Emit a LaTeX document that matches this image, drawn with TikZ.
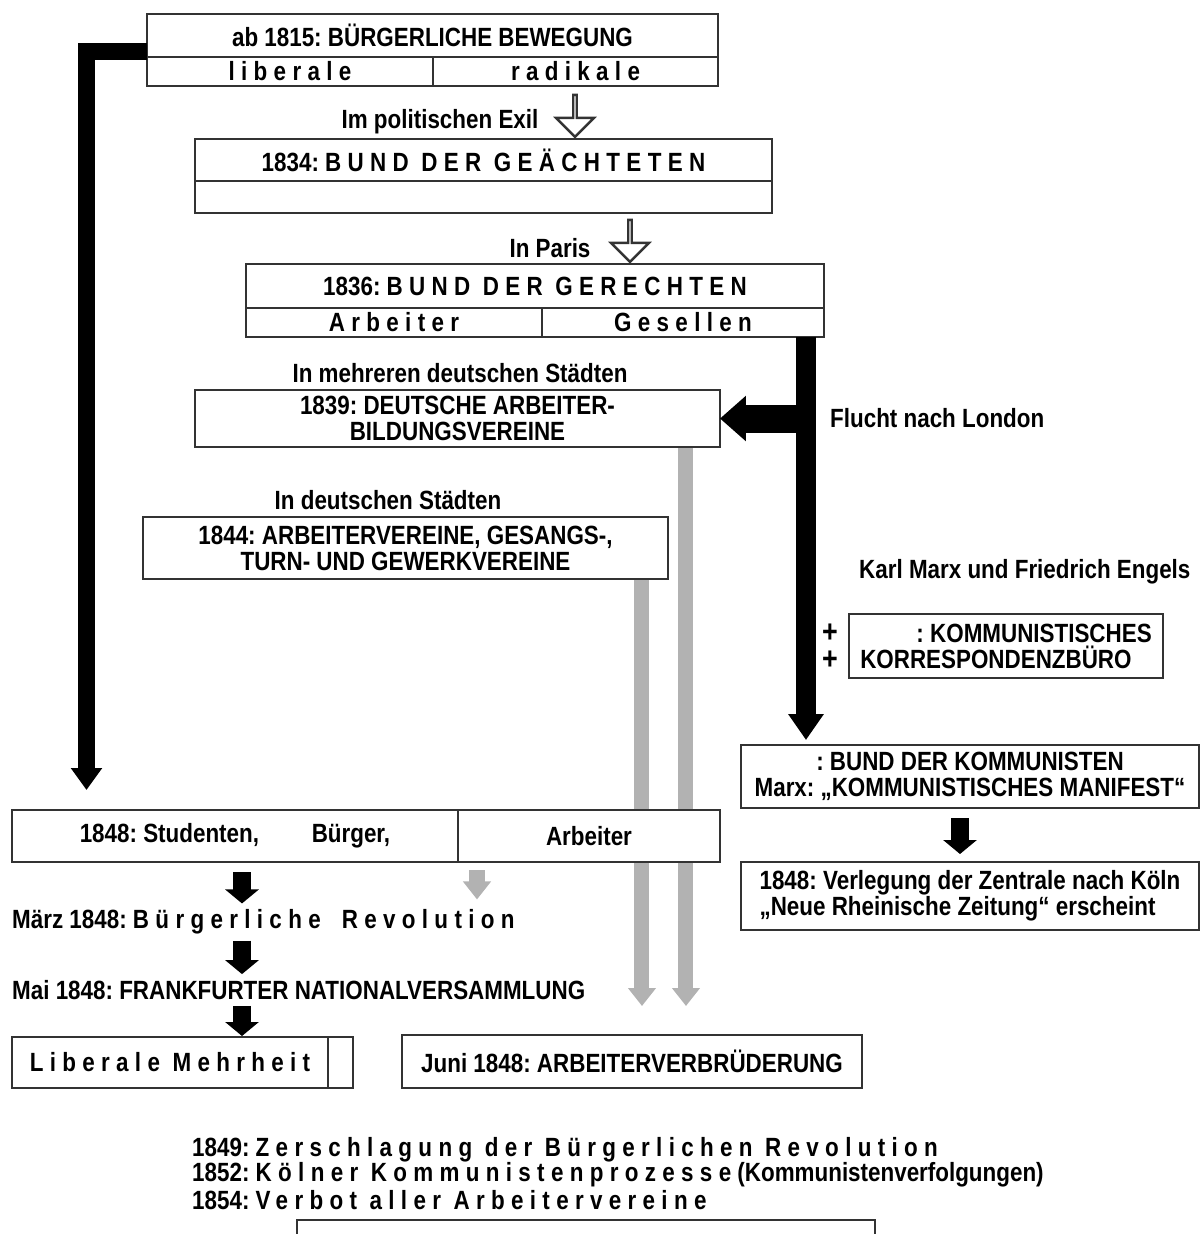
\documentclass[tikz,border=0pt]{standalone}
\usepackage{fontspec}
\setmainfont{Liberation Sans}[FakeStretch=0.85]
\usetikzlibrary{positioning, arrows.meta, shapes.arrows}
\pgfdeclarelayer{background}
\pgfsetlayers{background,main}
\frenchspacing

\newcommand{\spc}[2][24]{{\addfontfeature{LetterSpace=#1}#2}}

\begin{document}
\begin{tikzpicture}
  \tikzstyle{cell}=[draw=black!80, line width=0.8pt, fill=white, inner sep=0pt, outer sep=0pt, align=center, font=\bfseries\fontsize{7.5}{7.4}\selectfont]
  \tikzstyle{txt}=[inner sep=1pt, font=\bfseries\fontsize{7.5}{7.4}\selectfont]
  \tikzstyle{hollow}=[single arrow, draw=black!80, line width=0.7pt, fill=white, shape border rotate=270, minimum width=0.38cm, minimum height=0.42cm, single arrow head extend=0.12cm, inner sep=0pt]
  \tikzstyle{lbar}=[black, line width=0.17cm, -{Triangle[width=0.30cm,length=0.22cm]}]
  \tikzstyle{rbar}=[black, line width=0.20cm, -{Triangle[width=0.34cm,length=0.26cm]}]
  \tikzstyle{fbar}=[black, line width=0.28cm, -{Triangle[width=0.44cm,length=0.26cm]}]
  \tikzstyle{blk}=[black, line width=0.18cm, -{Triangle[width=0.33cm,length=0.14cm]}]
  \tikzstyle{gbar}=[gray!60, line width=0.15cm, -{Triangle[width=0.27cm,length=0.18cm]}]

  \useasboundingbox (0,0) rectangle (12.01,-12.34);

  % COLUMNS
  \coordinate (ax) at (2.42,0);
  \coordinate (gx0) at (4.77,0);
  \coordinate (rx) at (8.06,0);
  \coordinate (lend) at (0.865,-7.90);
  \coordinate (gend1) at (6.42,-10.06);
  \coordinate (gend2) at (6.86,-10.06);

  % UPPER BOXES
  \node[cell, minimum width=5.71cm, minimum height=0.43cm] (bew) at (4.325,-0.355) {ab 1815: BÜRGERLICHE BEWEGUNG};
  \node[cell, minimum width=2.86cm, minimum height=0.29cm, anchor=north west] (lib) at (bew.south west) {\spc{liberale}};
  \node[cell, minimum width=2.85cm, minimum height=0.29cm, anchor=north east] (rad) at (bew.south east) {\spc{radikale}};

  \node[txt] (exil) at (4.40,-1.22) {Im politischen Exil};
  \node[hollow] (exilpfeil) at (5.75,-1.15) {};

  \node[cell, minimum width=5.77cm, minimum height=0.42cm] (gea) at (4.835,-1.60) {1834: \spc{BUND DER GEÄCHTETEN}};
  \node[cell, minimum width=5.77cm, minimum height=0.32cm, anchor=north] (geab) at (gea.south) {};

  \node[txt] (paris) at (5.50,-2.48) {In Paris};
  \node[hollow] (parispfeil) at (6.30,-2.40) {};

  \node[cell, minimum width=5.78cm, minimum height=0.44cm] (ger) at (5.35,-2.86) {1836: \spc{BUND DER GERECHTEN}};
  \node[cell, minimum width=2.96cm, minimum height=0.29cm, anchor=north west] (arb) at (ger.south west) {\spc{Arbeiter}};
  \node[cell, minimum width=2.82cm, minimum height=0.29cm, anchor=north east] (ges) at (ger.south east) {\spc{Gesellen}};

  \node[txt] (staedte) at (4.60,-3.73) {In mehreren deutschen Städten};
  \node[cell, minimum width=5.25cm, minimum height=0.57cm] (dbv) at (4.575,-4.185) {1839: DEUTSCHE ARBEITER-\\BILDUNGSVEREINE};
  \node[txt, anchor=west] (flucht) at (8.26,-4.18) {Flucht nach London};

  \node[txt] (dstaedte) at (3.88,-5.00) {In deutschen Städten};
  \node[cell, minimum width=5.25cm, minimum height=0.62cm] (av) at (4.055,-5.48) {1844: ARBEITERVEREINE, GESANGS-,\\TURN- UND GEWERKVEREINE};

  % RIGHT COLUMN
  \node[txt, anchor=west] (marx) at (8.55,-5.72) {Karl Marx und Friedrich Engels};
  \node[cell, minimum width=3.14cm, minimum height=0.64cm, align=left] (kkb) at (10.06,-6.46) {\hspace*{16pt}: KOMMUNISTISCHES\\KORRESPONDENZBÜRO};
  \node[txt, font=\bfseries\fontsize{9}{9}\selectfont] (plusa) at (8.30,-6.33) {+};
  \node[txt, font=\bfseries\fontsize{9}{9}\selectfont] (plusb) at (8.30,-6.60) {+};
  \node[cell, minimum width=4.58cm, minimum height=0.63cm] (bdk) at (9.70,-7.765) {: BUND DER KOMMUNISTEN\\Marx: „KOMMUNISTISCHES MANIFEST“};
  \node[cell, minimum width=4.58cm, minimum height=0.68cm, align=left] (zk) at (9.70,-8.96) {1848: Verlegung der Zentrale nach Köln\\„Neue Rheinische Zeitung“ erscheint};

  % 1848
  \node[cell, minimum width=4.46cm, minimum height=0.52cm] (stud) at (2.35,-8.36) {1848: Studenten,\hspace{15pt}Bürger,};
  \node[cell, minimum width=2.62cm, minimum height=0.52cm, anchor=west] (arbt) at (stud.east) {Arbeiter};
  \node[txt, anchor=west] (maerz) at (0.08,-9.22) {März 1848: \spc{Bürgerliche\hspace{6pt}Revolution}};
  \node[txt, anchor=west] (mai) at (0.08,-9.90) {Mai 1848: FRANKFURTER NATIONALVERSAMMLUNG};
  \node[cell, minimum width=3.16cm, minimum height=0.51cm] (libm) at (1.70,-10.625) {\spc{Liberale Mehrheit}};
  \node[cell, minimum width=0.25cm, minimum height=0.51cm, anchor=west] (libx) at (libm.east) {};
  \node[cell, minimum width=4.60cm, minimum height=0.53cm] (jun) at (6.32,-10.615) {Juni 1848: ARBEITERVERBRÜDERUNG};

  % AFTER 1848
  \node[txt, anchor=west] (z1849) at (1.88,-11.50) {1849: \spc{Zerschlagung der Bürgerlichen Revolution}};
  \node[txt, anchor=west] (z1852) at (1.88,-11.75) {1852: \spc{Kölner Kommunistenprozesse} (Kommunistenverfolgungen)};
  \node[txt, anchor=west] (z1854) at (1.88,-12.00) {1854: \spc{Verbot aller Arbeitervereine}};
  \node[cell, minimum width=5.78cm, minimum height=0.60cm] (rest) at (5.86,-12.50) {};

  % CONNECTORS
  \begin{pgfonlayer}{background}
    \draw[gbar] (av.south -| gend1) -- (gend1);
    \draw[gbar] (dbv.south -| gend2) -- (gend2);
  \end{pgfonlayer}
  \draw[lbar, line join=miter] ([yshift=0.06cm]bew.south west) -| (lend);
  \draw[rbar, shorten >=0.05cm] (ges.south -| rx) -- (bdk.north -| rx);
  \draw[fbar] (rx |- dbv.east) -- (dbv.east);
  \draw[blk, shorten <=0.1cm, shorten >=0.08cm] ([xshift=-0.1cm]bdk.south) -- ([xshift=-0.1cm]zk.north);
  \draw[blk, shorten <=0.1cm, shorten >=0.02cm] (stud.south -| ax) -- (maerz.north -| ax);
  \draw[blk, shorten <=0.02cm, shorten >=0.02cm] (maerz.south -| ax) -- (mai.north -| ax);
  \draw[blk, shorten <=0.02cm, shorten >=0.01cm] (mai.south -| ax) -- (libm.north -| ax);
  \draw[gbar, line width=0.16cm, shorten <=0.08cm, shorten >=0.06cm] (arbt.south -| gx0) -- (maerz.north -| gx0);
\end{tikzpicture}
\end{document}
